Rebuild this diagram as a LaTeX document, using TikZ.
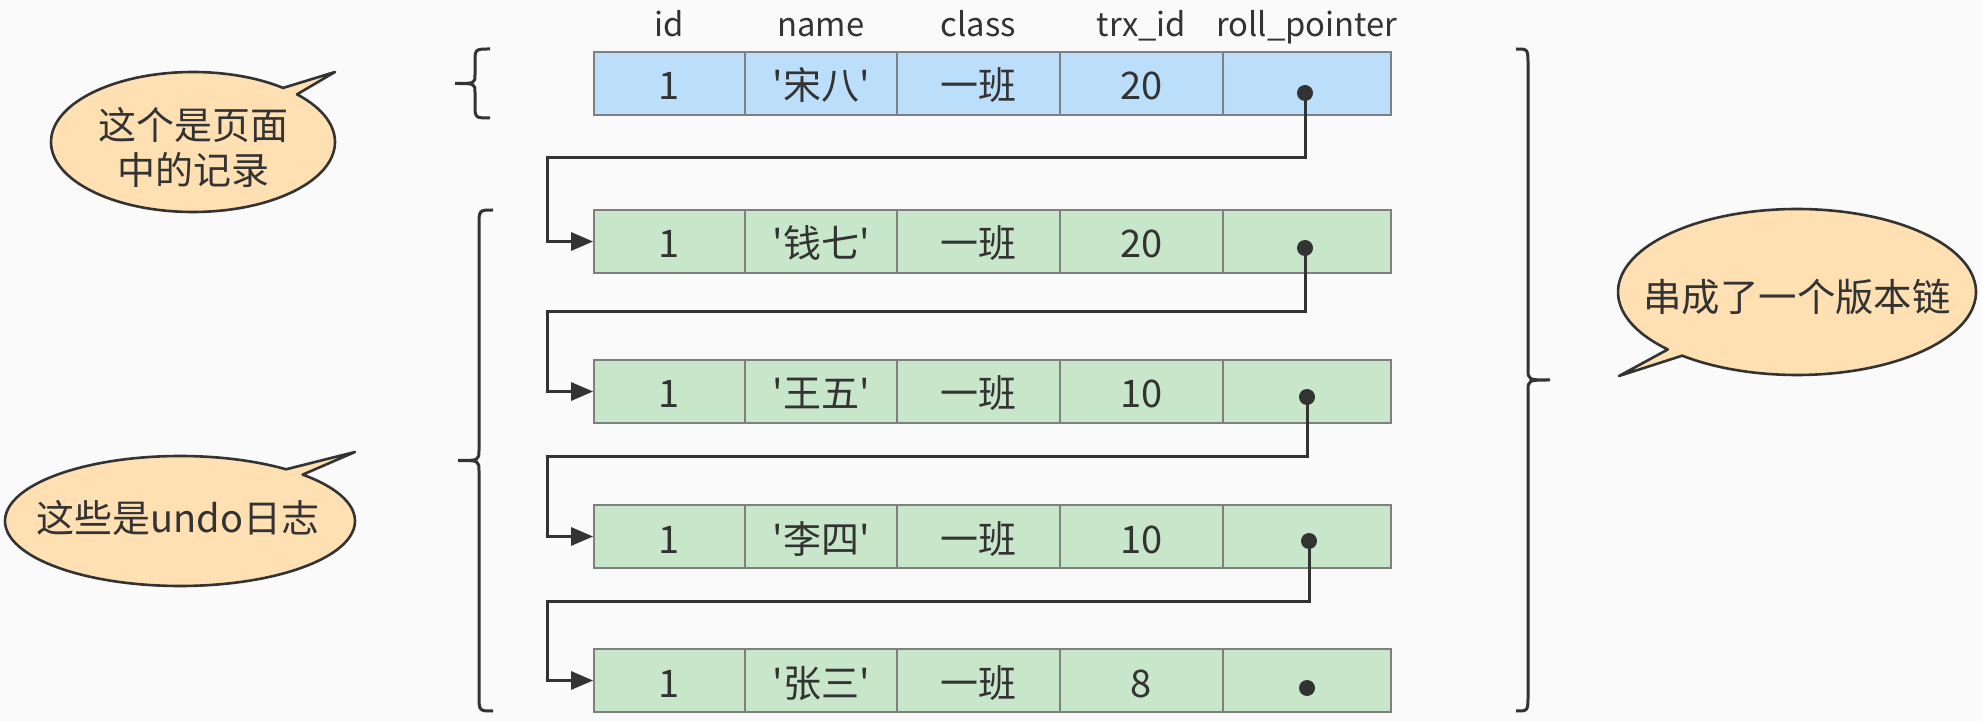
\documentclass[tikz,border=0pt]{standalone}
\usepackage{fontspec}
\newfontfamily\cjkfont{Noto Sans CJK SC}
\usetikzlibrary{arrows.meta}
\definecolor{bg}{HTML}{FAFAFA}
\definecolor{bluef}{HTML}{BBDEFA}
\definecolor{greenf}{HTML}{C8E6C9}
\definecolor{cellline}{HTML}{7F7F7F}
\definecolor{ink}{HTML}{333333}
\definecolor{bubblef}{HTML}{FFE0B2}
\begin{document}
\begin{tikzpicture}[x=0.5pt,y=-0.5pt,
  cell/.style={draw=cellline, line width=0.9pt, minimum height=31.5pt, inner sep=0pt,
    text=ink, text height=16.5pt, text depth=0pt, font=\cjkfont\fontsize{19}{22}\selectfont},
  hdr/.style={text=ink, inner sep=0pt, anchor=base, font=\cjkfont\fontsize{16.4}{20}\selectfont},
  conn/.style={draw=ink, line width=1.5pt, -{Triangle[length=11pt,width=9pt]}},
  brace/.style={draw=ink, line width=1.5pt},
  bubble/.style={draw=ink, line width=1.3pt, fill=bubblef, line join=round},
  btext/.style={text=ink, inner sep=0pt, align=center}]

\fill[bg] (0,0) rectangle (1982,721);
\useasboundingbox (0,0) rectangle (1982,721);

% headers
\node[hdr] (hid) at (669.5,37) {id};
\node[hdr] (hname) at (821,37) {name};
\node[hdr] (hclass) at (978.5,37) {class};
\node[hdr] (htrx) at (1141.5,37) {trx\_id};
\node[hdr] (hroll) at (1307,37) {roll\_pointer};

% rows
\foreach \r/\y/\nm/\tx/\fc in {1/83.5/宋八/20/bluef,2/241.5/钱七/20/greenf,3/391.5/王五/10/greenf,4/536.5/李四/10/greenf,5/680.5/张三/8/greenf}{
  \node[cell,fill=\fc,minimum width=75.5pt] (r\r-1) at (669.5,\y) {1};
  \node[cell,fill=\fc,minimum width=76pt] (r\r-2) at (821,\y) {'\nm'};
  \node[cell,fill=\fc,minimum width=81.5pt] (r\r-3) at (978.5,\y) {一班};
  \node[cell,fill=\fc,minimum width=81.5pt] (r\r-4) at (1141.5,\y) {\tx};
  \node[cell,fill=\fc,minimum width=84pt] (r\r-5) at (1307,\y) {};
}

% pointer dots
\coordinate (p1) at (1305,93);
\coordinate (p2) at (1305,248);
\coordinate (p3) at (1307,397);
\coordinate (p4) at (1309,541);
\coordinate (p5) at (1307,688);

% bends
\coordinate (h1) at (547,158);
\coordinate (h2) at (547,312);
\coordinate (h3) at (547,457);
\coordinate (h4) at (547,601);

\draw[conn] (p1) |- (h1) |- (r2-1.west);
\draw[conn] (p2) |- (h2) |- (r3-1.west);
\draw[conn] (p3) |- (h3) |- (r4-1.west);
\draw[conn] (p4) |- (h4) |- (r5-1.west);

\foreach \i in {1,...,5}{\fill[ink] (p\i) circle[radius=8];}

% braces
\draw[brace] (490,49) .. controls (475,49) .. (475,63) -- (475,74.5) .. controls (475,83.5) .. (455,83.5) .. controls (475,83.5) .. (475,92.5) -- (475,104) .. controls (475,118) .. (490,118);
\draw[brace] (493,210) .. controls (479,210) .. (479,226) -- (479,450) .. controls (479,460.5) .. (458,460.5) .. controls (479,460.5) .. (479,471) -- (479,695) .. controls (479,711) .. (493,711);
\draw[brace] (1516,49) .. controls (1528,49) .. (1528,65) -- (1528,369) .. controls (1528,380) .. (1550,380) .. controls (1528,380) .. (1528,391) -- (1528,695) .. controls (1528,711) .. (1516,711);

% bubbles
\path[bubble] (193,142) ++(-42.9:142 and 70) arc[start angle=-42.9, end angle=309.4, x radius=142, y radius=70] -- (335,72) -- cycle;
\node[btext, font=\cjkfont\fontsize{19}{22.5}\selectfont] (b1) at (193,147.5) {这个是页面\\中的记录};

\path[bubble] (180,521) ++(-45.5:175 and 65) arc[start angle=-45.5, end angle=307.3, x radius=175, y radius=65] -- (355,452) -- cycle;
\node[btext, font=\cjkfont\fontsize{19}{22.5}\selectfont] (b2) at (178,518) {这些是undo日志};

\path[bubble] (1797,292) ++(136.2:179 and 83) arc[start angle=136.2, end angle=489.9, x radius=179, y radius=83] -- (1619,376) -- cycle;
\node[btext, font=\cjkfont\fontsize{19.2}{23}\selectfont] (b3) at (1797,297) {串成了一个版本链};

\end{tikzpicture}
\end{document}
